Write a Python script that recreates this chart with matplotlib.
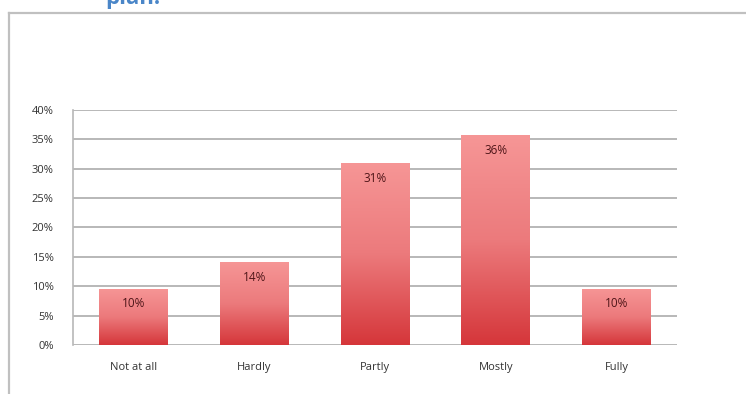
import numpy as np
import matplotlib.pyplot as plt
from matplotlib.colors import LinearSegmentedColormap
from matplotlib.lines import Line2D

# survey answers (share of respondents, %)
categories = ["Not at all", "Hardly", "Partly", "Mostly", "Fully"]
shares = [9.6, 14.1, 31.0, 35.7, 9.6]
yticks = [0, 5, 10, 15, 20, 25, 30, 35, 40]

plt.rcParams['font.family'] = ['Open Sans', 'DejaVu Sans']

fig = plt.figure(figsize=(7.46, 3.94), dpi=100)
ax = fig.add_axes([0.0979, 0.1244, 0.8096, 0.5964])

x = np.arange(len(categories))
bars = ax.bar(x, shares, width=0.57, color="none", edgecolor="none", zorder=3)

# vertical red gradient, light at the top, darker at the base
cmap = LinearSegmentedColormap.from_list("redfade", ["#d5363a", "#ec7a7c", "#f69696"])
grad = np.linspace(0, 1, 256).reshape(-1, 1)
for b, v in zip(bars, shares):
    x0, w = b.get_x(), b.get_width()
    im = ax.imshow(grad, cmap=cmap, origin="lower", aspect="auto",
                   extent=[x0, x0 + w, 0, v], zorder=3)
    im.set_clip_path(b)
    ax.text(x0 + w / 2, v - 1.5, f"{v:.0f}%", ha="center", va="top",
            fontsize=8.5, color="#4e1518", zorder=4)

ax.set_xlim(-0.5, len(categories) - 0.5)
ax.set_ylim(0, 40)
ax.set_yticks(yticks)
ax.set_yticklabels([f"{t}%" for t in yticks])
ax.set_xticks(x)
ax.set_xticklabels(categories)
ax.tick_params(axis="y", length=0, pad=14, labelsize=8, labelcolor="#333333")
ax.tick_params(axis="x", length=0, pad=12, labelsize=8, labelcolor="#333333")

ax.grid(axis="y", color="#b8b8b8", linewidth=1.4, zorder=0)
ax.set_axisbelow(True)
for s in ["top", "right", "bottom"]:
    ax.spines[s].set_visible(False)
ax.spines["left"].set_color("#b8b8b8")
ax.spines["left"].set_linewidth(1.2)

# outer chart frame (top and left edges)
fig.add_artist(Line2D([8.5 / 746, 1], [1 - 12.5 / 394, 1 - 12.5 / 394],
                      transform=fig.transFigure, color="#c0c0c0", linewidth=1.6))
fig.add_artist(Line2D([8.5 / 746, 8.5 / 746], [0, 1 - 12.5 / 394],
                      transform=fig.transFigure, color="#c0c0c0", linewidth=1.6))

# heading above the chart, cut off by the top edge
fig.text(105 / 746, 1 - 4 / 394, "plan.", fontsize=16, fontweight="bold",
         color="#4a86c8", ha="left", va="baseline")

fig.savefig("out.png", dpi=100)
